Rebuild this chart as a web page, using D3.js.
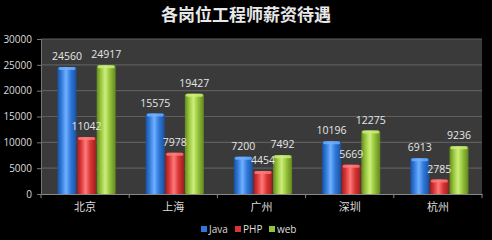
<!DOCTYPE html>
<html><head><meta charset="utf-8">
<script src="https://cdn.jsdelivr.net/npm/d3@7"></script>
<style>
html,body{margin:0;padding:0;background:#000;}
svg{display:block;}
</style></head>
<body>
<svg id="chart" width="492" height="240"></svg>
<script>
const categories = ["北京","上海","广州","深圳","杭州"];
const seriesNames = ["Java","PHP","web"];
const javaValues = [24560,15575,7200,10196,6913];
const phpValues = [11042,7978,4454,5669,2785];
const webValues = [24917,19427,7492,12275,9236];
const yTicks = [0,5000,10000,15000,20000,25000,30000];
const title = "各岗位工程师薪资待遇";

const seriesValues = [javaValues, phpValues, webValues];
const colors = [
  {base:"#2f78d8", light:"#6fb0ff", dark:"#1b4f9e"},
  {base:"#d93535", light:"#ff7a7a", dark:"#9c1e1e"},
  {base:"#94c23a", light:"#cdef7a", dark:"#62861e"}
];

const svg = d3.select("#chart");
const W = 492, H = 240;
const m = {left:41, right:10, top:39, bottom:46};
const pw = W - m.left - m.right, ph = H - m.top - m.bottom;

const defs = svg.append("defs");
colors.forEach((c,i)=>{
  const g = defs.append("linearGradient").attr("id","g"+i).attr("x1","0").attr("x2","1").attr("y1","0").attr("y2","0");
  g.append("stop").attr("offset","0%").attr("stop-color",c.dark);
  g.append("stop").attr("offset","20%").attr("stop-color",c.base);
  g.append("stop").attr("offset","45%").attr("stop-color",c.light);
  g.append("stop").attr("offset","70%").attr("stop-color",c.base);
  g.append("stop").attr("offset","100%").attr("stop-color",c.dark);
});

svg.append("rect").attr("width",W).attr("height",H).attr("fill","#000");

svg.append("text").attr("x",W/2).attr("y",21).attr("text-anchor","middle")
  .attr("fill","#e8e8e8").attr("font-family","'Noto Sans CJK SC', sans-serif")
  .attr("font-weight","bold").attr("font-size",17).text(title);

const g = svg.append("g").attr("transform",`translate(${m.left},${m.top})`);

const x0 = d3.scaleBand().domain(categories).range([0,pw]).paddingInner(0).paddingOuter(0);
const x1 = d3.scaleBand().domain(seriesNames).range([0,x0.bandwidth()]).paddingOuter(0.75).paddingInner(0).align(0.55);
const y = d3.scaleLinear().domain([0,30000]).range([ph,0]);

g.append("rect").attr("width",pw).attr("height",ph).attr("fill","#3a3a3a");

g.selectAll(".grid").data(yTicks.filter(d=>d>0)).join("line")
  .attr("x1",0).attr("x2",pw).attr("y1",d=>y(d)).attr("y2",d=>y(d))
  .attr("stroke","#5e5e5e").attr("stroke-width",1.2);

// y axis
const yAxis = g.append("g").call(d3.axisLeft(y).tickValues(yTicks).tickSize(4).tickPadding(5).tickFormat(d3.format("d")));
yAxis.select(".domain").attr("stroke","#777");
yAxis.selectAll(".tick line").attr("stroke","#777");
yAxis.selectAll("text").attr("fill","#ddd").attr("font-size",10).attr("font-family","'Open Sans', sans-serif");

// x axis
const xAxis = g.append("g").attr("transform",`translate(0,${ph})`)
  .call(d3.axisBottom(x0).tickSize(0).tickPadding(9));
xAxis.select(".domain").attr("stroke","#888");
xAxis.selectAll("text").attr("fill","#ddd").attr("font-size",11).attr("font-family","'Noto Sans CJK SC', sans-serif");
xAxis.selectAll(".sep").data(d3.range(categories.length+1)).join("line")
  .attr("x1",i=>i*x0.bandwidth()).attr("x2",i=>i*x0.bandwidth()).attr("y1",0).attr("y2",4).attr("stroke","#888");

// bars
const rows = [];
categories.forEach((c,ci)=>seriesNames.forEach((s,si)=>rows.push({c,s,si,v:seriesValues[si][ci]})));

const bars = g.append("g").selectAll("g").data(rows).join("g");
bars.append("rect")
  .attr("x",d=>x0(d.c)+x1(d.s)+0.3).attr("width",x1.bandwidth()-0.6)
  .attr("y",d=>y(d.v)).attr("height",d=>ph-y(d.v))
  .attr("rx",1.5).attr("fill",d=>`url(#g${d.si})`);
bars.append("rect")
  .attr("x",d=>x0(d.c)+x1(d.s)+1.3).attr("width",x1.bandwidth()-2.6)
  .attr("y",d=>y(d.v)).attr("height",3).attr("rx",1.5)
  .attr("fill",d=>colors[d.si].light).attr("opacity",0.8);

g.append("g").selectAll("text").data(rows).join("text")
  .attr("x",d=>x0(d.c)+x1(d.s)+x1.bandwidth()/2).attr("y",d=>y(d.v)-7)
  .attr("text-anchor","middle").attr("fill","#e6e6e6").attr("font-size",10.5)
  .attr("font-family","'Open Sans', sans-serif").text(d=>d.v);

// legend
const legend = svg.append("g").attr("transform","translate(201,230)");
const lx = [0,34,68];
seriesNames.forEach((s,i)=>{
  const lg = legend.append("g").attr("transform",`translate(${lx[i]},0)`);
  lg.append("rect").attr("x",0).attr("y",-4).attr("width",6).attr("height",6).attr("fill",colors[i].base);
  lg.append("text").attr("x",8).attr("y",2.5).attr("fill","#ddd").attr("font-size",10)
    .attr("font-family","'Open Sans', sans-serif").text(s);
});
</script>
</body></html>
